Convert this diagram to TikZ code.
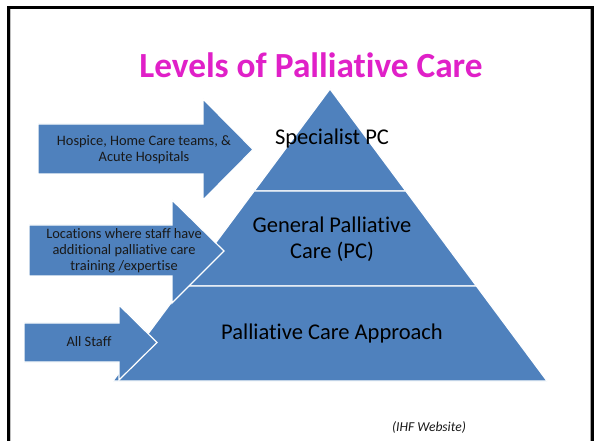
\documentclass[tikz,border=0pt]{standalone}
\usepackage{fontspec}
\setmainfont[Ligatures=NoCommon]{Carlito}
\definecolor{pcblue}{RGB}{79,129,189}
\definecolor{titlemag}{RGB}{224,32,200}
\begin{document}
\begin{tikzpicture}[x=1pt,y=-1pt,
  tier/.style={fill=pcblue,draw=white,line width=1.2pt,line join=miter},
  arrowshape/.style={fill=pcblue,draw=white,line width=1.2pt,line join=miter},
  armtext/.style={align=center,font=\fontsize{14.4}{16}\selectfont,text=black!90,inner sep=0pt},
  tiertext/.style={align=center,font=\fontsize{22.5}{26}\selectfont,text=black,inner sep=0pt}]
\useasboundingbox (0,0) rectangle (598,441);
\fill[white] (0,0) rectangle (598,441);
% frame
\draw[black,line width=3pt,line join=miter] (8.5,446) -- (8.5,7.5) -- (592.5,7.5) -- (592.5,446);
\draw[gray!70,line width=1pt] (590.5,9) -- (590.5,441);
\draw[gray!50,line width=0.8pt] (10.4,9) -- (10.4,441);
% title
\node[font=\bfseries\fontsize{35.3}{40}\selectfont,text=titlemag,inner sep=0pt] (title) at (311,65) {Levels of Palliative Care};
% pyramid tiers
\path[tier] (330,89) -- (405.8,191) -- (254.2,191) -- cycle;
\path[tier] (254.2,191) -- (405.8,191) -- (476.4,286) -- (183.6,286) -- cycle;
\path[tier] (183.6,286) -- (476.4,286) -- (547,381) -- (113,381) -- cycle;
\node[tiertext] (spec) at (332,139) {Specialist PC};
\node[tiertext] (gen) at (332,239) {General Palliative\\Care (PC)};
\node[tiertext] (appr) at (332,334) {Palliative Care Approach};
% arrows
\path[arrowshape] (38,124) -- (203,124) -- (203,99) -- (253,149.5) -- (203,200) -- (203,174) -- (38,174) -- cycle;
\path[arrowshape] (29,225) -- (172,225) -- (172,200) -- (224,251) -- (172,303) -- (172,276) -- (29,276) -- cycle;
\path[arrowshape] (24,323) -- (119,323) -- (119,305) -- (157,342.5) -- (119,380) -- (119,362) -- (24,362) -- cycle;
\node[armtext] (a1) at (144,150) {Hospice, Home Care teams, \&\\Acute Hospitals};
\node[armtext] (a2) at (124,251) {Locations where staff have\\additional palliative care\\training /expertise};
\node[armtext] (a3) at (89,342) {All Staff};
% credit
\node[font=\itshape\fontsize{13.6}{15}\selectfont,text=black!90,inner sep=0pt] (credit) at (429,427) {(IHF Website)};
\end{tikzpicture}
\end{document}
